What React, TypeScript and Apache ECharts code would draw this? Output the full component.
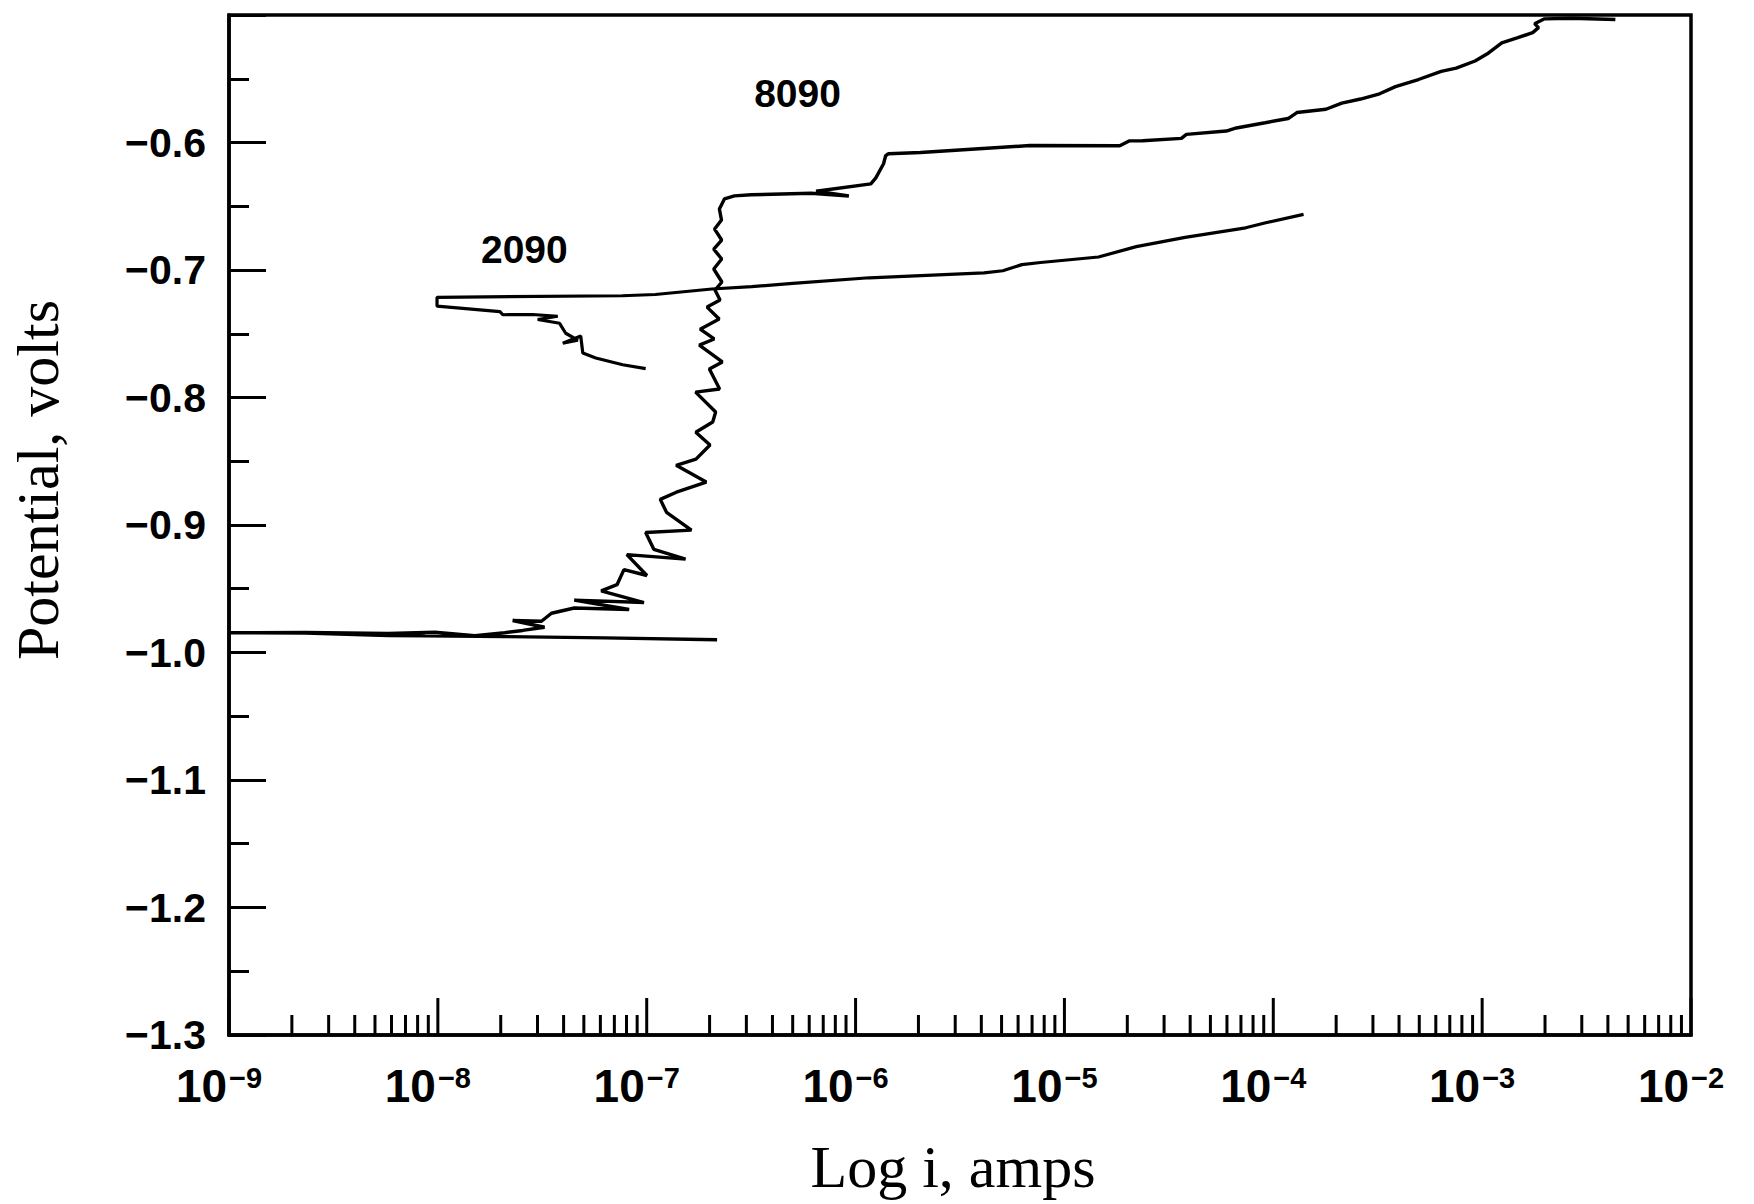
import React, { useEffect, useRef } from "react";
import * as echarts from "echarts";

// Decades shown on the current axis (exponents of 10) and minor multipliers
const decadeExponents = [-9, -8, -7, -6, -5, -4, -3, -2];
const minorMultipliers = [2, 3, 4, 5, 6, 7, 8, 9];

// Potential axis range (volts)
const potentialMin = -1.3;
const potentialMax = -0.5;
const potentialStep = 0.1;

// Curve labels
const alloyNames = ["8090", "2090"];
const alloyLabelPoints = [
  [-6.278, -0.5615],
  [-7.586, -0.684],
];

// 8090 polarization curve: [log10(i, amps), potential (V)]
const curve8090 = [
  [-6.663, -0.99], [-7.203, -0.9885], [-7.68, -0.9875], [-8.062, -0.987], [-8.238, -0.9867],
  [-8.634, -0.9848], [-9.0, -0.9845],
  [-8.634, -0.9842], [-8.238, -0.9851], [-8.014, -0.984], [-7.823, -0.9869], [-7.68, -0.9844],
  [-7.594, -0.9827], [-7.489, -0.9802], [-7.642, -0.9749], [-7.504, -0.9755], [-7.456, -0.9692],
  [-7.347, -0.9651], [-7.084, -0.9663], [-7.347, -0.9589], [-7.013, -0.9608], [-7.218, -0.9516],
  [-7.142, -0.9468], [-7.109, -0.935], [-6.999, -0.9396], [-7.095, -0.9232], [-6.814, -0.9268],
  [-6.966, -0.9191], [-7.005, -0.9059], [-6.786, -0.904], [-6.905, -0.8901], [-6.935, -0.8799],
  [-6.858, -0.8743], [-6.715, -0.8663], [-6.859, -0.8532], [-6.764, -0.8483], [-6.697, -0.8373],
  [-6.765, -0.8272], [-6.684, -0.8192], [-6.67, -0.8114], [-6.766, -0.7958], [-6.651, -0.7933],
  [-6.7, -0.7777], [-6.638, -0.7721], [-6.748, -0.7589], [-6.677, -0.7541], [-6.744, -0.7464],
  [-6.653, -0.7384], [-6.711, -0.7291], [-6.649, -0.7235], [-6.673, -0.7157], [-6.64, -0.7094],
  [-6.679, -0.6992], [-6.641, -0.6914], [-6.679, -0.6836], [-6.641, -0.6765], [-6.675, -0.6679],
  [-6.642, -0.6608], [-6.652, -0.6522], [-6.628, -0.6443], [-6.58, -0.6419], [-6.499, -0.641],
  [-6.213, -0.6398], [-6.032, -0.642], [-6.189, -0.6382], [-5.927, -0.6324], [-5.903, -0.6277],
  [-5.866, -0.6167], [-5.856, -0.6104], [-5.842, -0.6088], [-5.689, -0.6078], [-5.165, -0.6024],
  [-4.735, -0.6026], [-4.688, -0.5987], [-4.626, -0.5986], [-4.44, -0.5968], [-4.416, -0.5936],
  [-4.225, -0.591], [-4.177, -0.5886], [-4.039, -0.5845], [-3.929, -0.5812], [-3.887, -0.5765],
  [-3.748, -0.5739], [-3.672, -0.5691], [-3.582, -0.5659], [-3.491, -0.5618], [-3.415, -0.5562],
  [-3.305, -0.5506], [-3.196, -0.5442], [-3.124, -0.5417], [-3.034, -0.5361], [-2.977, -0.5306],
  [-2.906, -0.5219], [-2.829, -0.5178], [-2.758, -0.5138], [-2.73, -0.5099], [-2.749, -0.5068],
  [-2.701, -0.503], [-2.572, -0.5025], [-2.362, -0.5035],
];

// 2090 polarization curve: [log10(i, amps), potential (V)]
const curve2090 = [
  [-7.005, -0.7773], [-7.115, -0.7743], [-7.244, -0.769], [-7.306, -0.7651], [-7.316, -0.7518],
  [-7.402, -0.7574], [-7.33, -0.755], [-7.388, -0.7496], [-7.417, -0.7418], [-7.522, -0.7388],
  [-7.426, -0.7363], [-7.546, -0.7349], [-7.689, -0.7351], [-7.703, -0.7327], [-8.004, -0.7284],
  [-8.004, -0.7214], [-7.117, -0.7202], [-6.959, -0.7192], [-6.688, -0.7149], [-6.497, -0.7131],
  [-6.301, -0.7105], [-5.934, -0.7061], [-5.385, -0.7023], [-5.295, -0.7006], [-5.204, -0.6958],
  [-5.114, -0.6941], [-4.837, -0.6898], [-4.656, -0.6817], [-4.422, -0.6744], [-4.132, -0.6669],
  [-4.036, -0.6629], [-3.855, -0.6564],
];

const SANS = "Liberation Sans, Arial, sans-serif";
const SERIF = "Liberation Serif, Times New Roman, serif";

export default function App() {
  const ref = useRef<HTMLDivElement>(null);

  useEffect(() => {
    if (!ref.current) return;
    const chart = echarts.init(ref.current, undefined, { renderer: "svg" });

    const toAmps = (pts: number[][]) => pts.map(([l, e]) => [Math.pow(10, l), e]);

    const tickData: number[][] = [];
    decadeExponents.forEach((d, idx) => {
      tickData.push([Math.pow(10, d), 1]);
      if (idx < decadeExponents.length - 1) {
        minorMultipliers.forEach((m) => tickData.push([m * Math.pow(10, d), 0]));
      }
    });

    const option: any = {
      animation: false,
      backgroundColor: "#ffffff",
      grid: {
        left: 224,
        right: 63,
        top: 15,
        bottom: 169,
        show: true,
        borderColor: "#000",
        borderWidth: 3.5,
      },
      xAxis: {
        type: "log",
        logBase: 10,
        min: Math.pow(10, decadeExponents[0]),
        max: Math.pow(10, decadeExponents[decadeExponents.length - 1]),
        name: "Log i, amps",
        nameLocation: "middle",
        nameGap: 100,
        nameTextStyle: { fontFamily: SERIF, fontSize: 60, color: "#000", padding: [0, 14, 0, 0] },
        axisLine: { show: true, lineStyle: { color: "#000", width: 3.5 } },
        axisTick: { show: false },
        minorTick: { show: false },
        splitLine: { show: false },
        axisLabel: {
          margin: 28,
          color: "#000",
          formatter: (v: number) => {
            const e = Math.round(Math.log10(v));
            return `{b|10}{s|\u2212${-e}}`;
          },
          rich: {
            b: {
              fontFamily: SANS,
              fontSize: 46,
              fontWeight: "bold",
              lineHeight: 46,
              verticalAlign: "bottom",
              color: "#000",
            },
            s: {
              fontFamily: SANS,
              fontSize: 29,
              fontWeight: "bold",
              lineHeight: 29,
              verticalAlign: "top",
              padding: [0, 20, 40, 2],
              color: "#000",
            },
          },
        },
      },
      yAxis: {
        type: "value",
        min: potentialMin,
        max: potentialMax,
        interval: potentialStep,
        name: "Potential, volts",
        nameLocation: "middle",
        nameRotate: 90,
        nameGap: 161,
        nameTextStyle: { fontFamily: SERIF, fontSize: 60, color: "#000", padding: [0, 0, 0, 90] },
        axisLine: { show: true, lineStyle: { color: "#000", width: 3.5 } },
        axisTick: { show: true, inside: true, length: 37, lineStyle: { color: "#000", width: 3 } },
        minorTick: { show: true, splitNumber: 2, length: 20, lineStyle: { color: "#000", width: 3 } },
        splitLine: { show: false },
        minorSplitLine: { show: false },
        axisLabel: {
          margin: 23,
          color: "#000",
          fontFamily: SANS,
          fontWeight: "bold",
          fontSize: 41,
          padding: [0, 0, 8, 0],
          formatter: (v: number) => (Math.abs(v - potentialMax) < 1e-6 ? "" : "\u2212" + Math.abs(v).toFixed(1)),
        },
      },
      series: [
        {
          name: alloyNames[0],
          type: "line",
          data: toAmps(curve8090),
          showSymbol: false,
          symbol: "none",
          lineStyle: { color: "#000", width: 3.4 },
          z: 3,
        },
        {
          name: alloyNames[1],
          type: "line",
          data: toAmps(curve2090),
          showSymbol: false,
          symbol: "none",
          lineStyle: { color: "#000", width: 3.2 },
          z: 3,
        },
        {
          name: "labels",
          type: "scatter",
          symbol: "circle",
          symbolSize: 0,
          itemStyle: { color: "#000", opacity: 1 },
          silent: true,
          label: {
            show: true,
            position: [0, 0],
            align: "center",
            verticalAlign: "middle",
            formatter: "{b}",
            fontFamily: SANS,
            fontWeight: "bold",
            fontSize: 39,
            color: "#000",
            opacity: 1,
          },
          data: alloyNames.map((n, i) => ({
            name: n,
            value: [Math.pow(10, alloyLabelPoints[i][0]), alloyLabelPoints[i][1]],
          })),
        },
        {
          name: "ticks",
          type: "custom",
          silent: true,
          z: 5,
          data: tickData,
          renderItem: (params: any, api: any) => {
            const v = api.value(0);
            const major = api.value(1);
            const p = api.coord([v, potentialMin]);
            const len = major ? 37 : 20;
            return {
              type: "line",
              shape: { x1: p[0], y1: p[1], x2: p[0], y2: p[1] - len },
              style: { stroke: "#000", lineWidth: 3 },
            };
          },
        },
      ],
    };

    chart.setOption(option);
    return () => chart.dispose();
  }, []);

  return (
    <div
      ref={ref}
      style={{ position: "absolute", left: 0, top: 0, width: 1754, height: 1204, background: "#fff" }}
    />
  );
}
